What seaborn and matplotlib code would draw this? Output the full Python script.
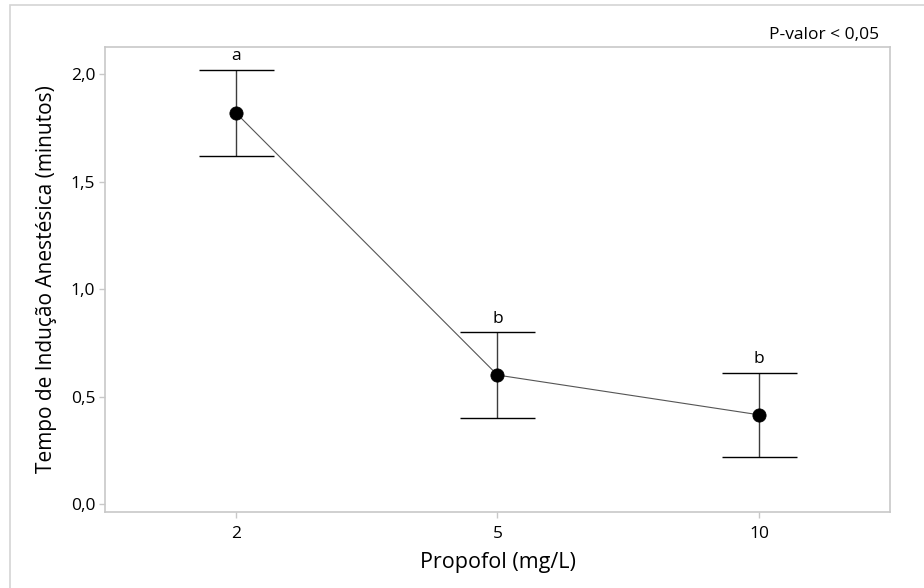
import numpy as np
import pandas as pd
import matplotlib
matplotlib.use("Agg")
import matplotlib.pyplot as plt
from matplotlib.patches import Rectangle
from matplotlib.ticker import FuncFormatter
import seaborn as sns

doses = ["2", "5", "10"]
means = [1.82, 0.60, 0.415]
lower = [1.62, 0.40, 0.218]
upper = [2.02, 0.80, 0.610]
letters = ["a", "b", "b"]

df = pd.DataFrame({"dose": doses, "tempo": means})

sns.set_style("white")
plt.rcParams["font.family"] = ["Open Sans", "DejaVu Sans"]
plt.rcParams["text.color"] = "black"
plt.rcParams["axes.labelcolor"] = "black"
plt.rcParams["xtick.labelcolor"] = "black"
plt.rcParams["ytick.labelcolor"] = "black"

fig = plt.figure(figsize=(9.24, 5.88), dpi=100)
ax = fig.add_axes([105 / 924, 1 - 512 / 588, 785 / 924, 465 / 588])

# outer frame (Minitab style)
fig.patches.append(Rectangle((10 / 924, -0.1), 1.2, 1 - 5 / 588 + 0.1,
                             transform=fig.transFigure, fill=False,
                             edgecolor="#d4d4d4", linewidth=1.2))

pos = np.arange(len(doses))
err = [np.array(means) - np.array(lower), np.array(upper) - np.array(means)]
ax.errorbar(pos, means, yerr=err, fmt="none", ecolor="#3c3c3c",
            elinewidth=1.0, capsize=27, capthick=1.0, zorder=2)

sns.pointplot(data=df, x="dose", y="tempo", color="black", errorbar=None,
              markers="o", markersize=9.5, linewidth=0.8, ax=ax, zorder=3)
for ln in ax.lines:
    if len(ln.get_xdata()) > 1:
        ln.set_color("#555555")
        ln.set_markerfacecolor("black")
        ln.set_markeredgecolor("black")

for i, (u, t) in enumerate(zip(upper, letters)):
    ax.annotate(t, (pos[i], u), xytext=(0, 4), textcoords="offset points",
                ha="center", va="bottom", fontsize=12.5)

ax.set_xlim(-0.5, 2.5)
ax.set_ylim(-0.037, 2.126)
ax.set_yticks([0, 0.5, 1.0, 1.5, 2.0])
ax.yaxis.set_major_formatter(FuncFormatter(lambda v, p: f"{v:.1f}".replace(".", ",")))

for s in ax.spines.values():
    s.set_visible(True)
    s.set_color("#c8c8c8")
    s.set_linewidth(1.2)

ax.tick_params(axis="both", which="major", length=4, width=1, color="#c8c8c8",
               labelsize=12.5, direction="out", left=True, bottom=True)
ax.tick_params(axis="y", pad=3)
ax.tick_params(axis="x", pad=6)

ax.set_xlabel("Propofol (mg/L)", fontsize=15.5, labelpad=7)
ax.set_ylabel("Tempo de Indução Anestésica (minutos)", fontsize=15, labelpad=10)

fig.text(879 / 924, 1 - 35 / 588, "P-valor < 0,05", ha="right", va="center", fontsize=12.5)

fig.savefig("out.png", dpi=100)
